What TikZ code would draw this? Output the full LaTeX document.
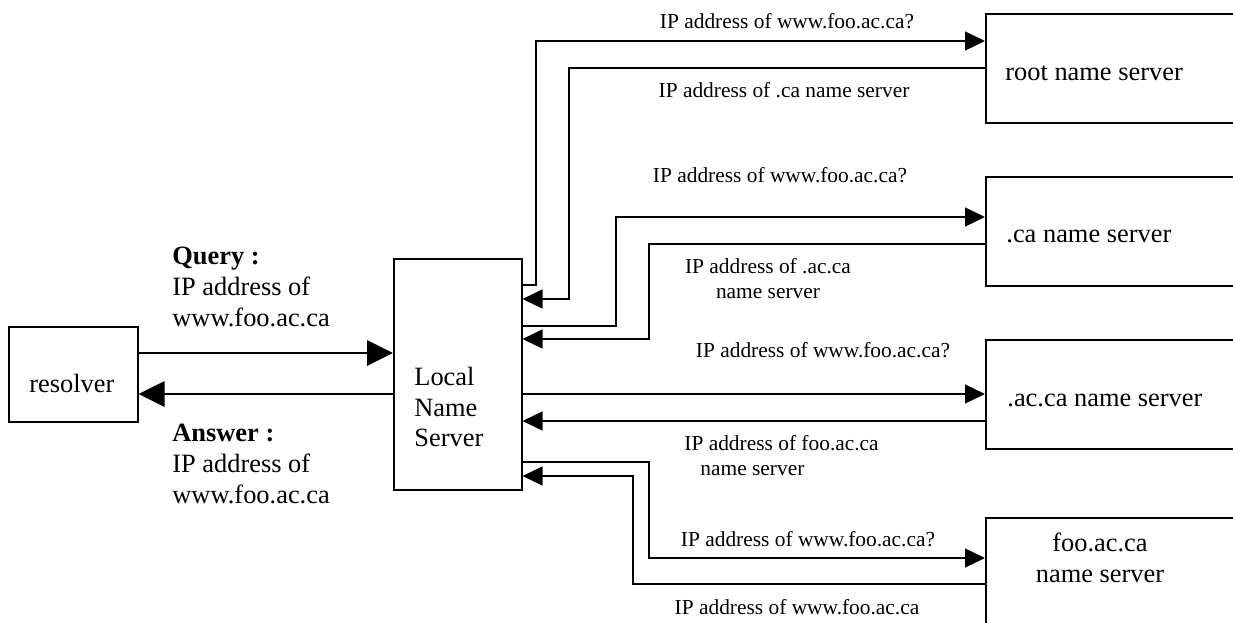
\documentclass[tikz,border=0pt]{standalone}
\usepackage{fontspec}
\setmainfont{Liberation Serif}
\usetikzlibrary{arrows.meta}

\begin{document}
\begin{tikzpicture}[x=0.5pt,y=0.5pt]
\tikzstyle{every node}+=[inner sep=0pt]
\tikzstyle{plainbox}=[draw=black, line width=0.75pt, anchor=north west]
\tikzstyle{big}=[font=\fontsize{13.2}{15.3}\selectfont]
\tikzstyle{small}=[font=\fontsize{10.7}{12.5}\selectfont]
\tikzstyle{msg}=[black, line width=0.6pt, -{Triangle[length=10pt,width=9.5pt]}]
\tikzstyle{fat}=[black, line width=1.4pt, -{Triangle[length=13pt,width=12.5pt]}]
\useasboundingbox (0,0) rectangle (1233,-622);
\node [plainbox, minimum width=64.5pt, minimum height=47.5pt] (res) at (8,-326) {};
\node [plainbox, minimum width=64pt, minimum height=115.5pt] (lns) at (393,-258) {};
\node [plainbox, minimum width=132.5pt, minimum height=54.5pt] (root) at (985,-13) {};
\node [plainbox, minimum width=132.5pt, minimum height=54.5pt] (ca) at (985,-176) {};
\node [plainbox, minimum width=132.5pt, minimum height=54.5pt] (aca) at (985,-339) {};
\node [plainbox, minimum width=132.5pt, minimum height=66.5pt] (foo) at (985,-517) {};
\node [big, anchor=base west] (restxt) at (29,-392) {resolver};
\node [big, align=left, anchor=west] (lnstxt) at (414,-407) {Local\\Name\\Server};
\node [big, anchor=base west] (roottxt) at (1005,-80) {root name server};
\node [big, anchor=base west] (catxt) at (1006,-242) {.ca name server};
\node [big, anchor=base west] (acatxt) at (1007,-406) {.ac.ca name server};
\node [big, align=center] (footxt) at (1100,-558) {foo.ac.ca\\name server};
\node [big, align=left, anchor=west] (qtxt) at (172,-287) {\textbf{Query :}\\IP address of\\www.foo.ac.ca};
\node [big, align=left, anchor=west] (atxt) at (172,-464) {\textbf{Answer :}\\IP address of\\www.foo.ac.ca};
\draw [fat] (res.east |- 0,-353) -- (lns.west |- 0,-353);
\draw [fat] (lns.west |- 0,-394) -- (res.east |- 0,-394);
\draw [msg] (lns.east |- 0,-285) -| (536,-41) -- (root.west |- 0,-41);
\node [small, anchor=base] (rootq) at (787,-28) {IP address of www.foo.ac.ca?};
\draw [msg] (root.west |- 0,-68) -| (569,-299) -- (lns.east |- 0,-299);
\node [small, anchor=base] (rootr) at (784,-97) {IP address of .ca name server};
\draw [msg] (lns.east |- 0,-326) -| (616,-217) -- (ca.west |- 0,-217);
\node [small, anchor=base] (caq) at (780,-182) {IP address of www.foo.ac.ca?};
\draw [msg] (ca.west |- 0,-244) -| (649,-339) -- (lns.east |- 0,-339);
\node [small, align=center] (car) at (768,-279) {IP address of .ac.ca\\name server};
\draw [msg] (lns.east |- 0,-394) -- (aca.west |- 0,-394);
\node [small, anchor=base] (acaq) at (823,-357) {IP address of www.foo.ac.ca?};
\draw [msg] (aca.west |- 0,-421) -- (lns.east |- 0,-421);
\node [small, align=left, anchor=west] (acar) at (684,-456) {IP address of foo.ac.ca\\\hspace*{8pt}name server};
\draw [msg] (lns.east |- 0,-462) -| (649,-558) -- (foo.west |- 0,-558);
\node [small, anchor=base] (fooq) at (808,-546) {IP address of www.foo.ac.ca?};
\draw [msg] (foo.west |- 0,-584) -| (633,-476) -- (lns.east |- 0,-476);
\node [small, anchor=base] (foor) at (797,-614) {IP address of www.foo.ac.ca};
\end{tikzpicture}
\end{document}
